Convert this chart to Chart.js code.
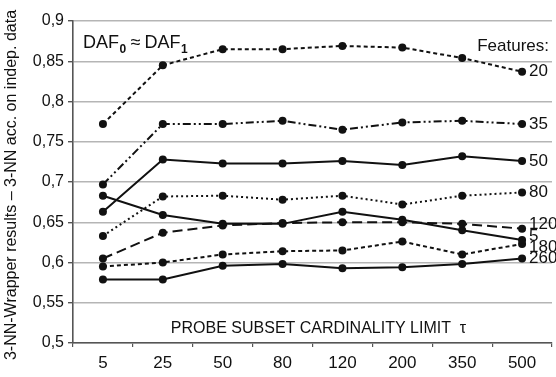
<!DOCTYPE html>
<html>
<head>
<meta charset="utf-8">
<script src="https://cdn.jsdelivr.net/npm/chart.js@4.4.0/dist/chart.umd.min.js"></script>
<style>
  html, body { margin: 0; padding: 0; background: #fff; }
  #wrap { width: 556px; height: 377px; }
</style>
</head>
<body>
<div id="wrap"><canvas id="myChart" width="556" height="377"></canvas></div>
<script>
const limits = ['5', '25', '50', '80', '120', '200', '350', '500'];
const featureNames = ['20', '35', '50', '80', '120', '5', '180', '260'];

const f20  = [0.772, 0.845, 0.865, 0.865, 0.869, 0.867, 0.854, 0.837];
const f35  = [0.697, 0.772, 0.772, 0.776, 0.765, 0.774, 0.776, 0.772];
const f50  = [0.663, 0.728, 0.723, 0.723, 0.726, 0.721, 0.732, 0.726];
const f80  = [0.633, 0.682, 0.683, 0.678, 0.683, 0.672, 0.683, 0.687];
const f120 = [0.605, 0.637, 0.646, 0.649, 0.650, 0.650, 0.648, 0.642];
const f5   = [0.683, 0.659, 0.648, 0.648, 0.663, 0.653, 0.640, 0.628];
const f180 = [0.595, 0.600, 0.610, 0.614, 0.615, 0.626, 0.610, 0.623];
const f260 = [0.579, 0.579, 0.596, 0.598, 0.593, 0.594, 0.598, 0.605];

const yTicks = [0.5, 0.55, 0.6, 0.65, 0.7, 0.75, 0.8, 0.85, 0.9];

// dash styles per series
const dashes = [[4, 3], [8, 3, 2, 3, 2, 3], [], [2, 3], [10, 5], [], [4, 3], []];
// small vertical nudges for the end labels so they don't collide
const labelShift = [0, 0, 0, 0, -4, -4, 3, 0];

const font = 'Liberation Sans, Arial, sans-serif';

const extras = {
    id: 'extras',
    afterDatasetsDraw(chart) {
        const ctx = chart.ctx;
        const a = chart.chartArea;
        ctx.save();
        ctx.fillStyle = '#111';
        ctx.font = '17px ' + font;
        ctx.textBaseline = 'middle';
        ctx.textAlign = 'left';
        chart.data.datasets.forEach((ds, i) => {
            const meta = chart.getDatasetMeta(i);
            const p = meta.data[meta.data.length - 1];
            ctx.fillText(ds.label, p.x + 7, p.y + labelShift[i]);
        });
        ctx.textAlign = 'right';
        ctx.fillText('Features:', 549, 46);

        // DAF0 ≈ DAF1
        ctx.textAlign = 'left';
        ctx.textBaseline = 'alphabetic';
        let x = 83;
        ctx.font = '18px ' + font;
        ctx.fillText('DAF', x, 48);
        x += ctx.measureText('DAF').width;
        ctx.font = 'bold 12px ' + font;
        ctx.fillText('0', x + 0.5, 53);
        x += ctx.measureText('0').width + 5;
        ctx.font = '18px ' + font;
        ctx.fillText('≈', x, 48);
        x += ctx.measureText('≈').width + 4;
        ctx.fillText('DAF', x, 48);
        x += ctx.measureText('DAF').width;
        ctx.font = 'bold 12px ' + font;
        ctx.fillText('1', x + 0.5, 53);

        // x axis caption inside the plot
        ctx.font = '16px ' + font;
        ctx.textAlign = 'center';
        ctx.textBaseline = 'middle';
        ctx.fillText('PROBE SUBSET CARDINALITY LIMIT  τ', (a.left + a.right) / 2 + 6, 329);

        // y axis title
        ctx.translate(12, 185);
        ctx.rotate(-Math.PI / 2);
        ctx.font = '16px ' + font;
        ctx.fillText('3-NN-Wrapper results – 3-NN acc. on indep. data', 0, 0);
        ctx.restore();
    }
};

const series = [f20, f35, f50, f80, f120, f5, f180, f260];

new Chart(document.getElementById('myChart'), {
    type: 'line',
    data: {
        labels: limits,
        datasets: series.map((vals, i) => ({
            label: featureNames[i],
            data: vals,
            borderColor: '#111',
            backgroundColor: '#111',
            borderWidth: 2,
            borderDash: dashes[i],
            pointRadius: 4,
            pointBorderWidth: 0,
            tension: 0,
            fill: false
        }))
    },
    options: {
        responsive: false,
        animation: false,
        layout: { padding: { top: 21, right: 3, left: 0, bottom: 0 } },
        scales: {
            x: {
                offset: true,
                grid: {
                    display: true,
                    drawOnChartArea: false,
                    offset: true,
                    color: '#555',
                    tickLength: 4,
                    lineWidth: 1.2
                },
                border: { color: '#555', width: 1.6 },
                ticks: {
                    color: '#111',
                    font: { family: font, size: 17 },
                    padding: 6
                },
                afterFit(scale) { scale.height = 34; }
            },
            y: {
                min: 0.5,
                max: 0.9,
                afterBuildTicks(scale) {
                    scale.ticks = yTicks.map(v => ({ value: v }));
                },
                grid: {
                    color: '#b5b5b5',
                    lineWidth: 1.4,
                    tickColor: '#555',
                    tickLength: 5
                },
                border: { color: '#555', width: 1.6 },
                ticks: {
                    color: '#111',
                    font: { family: font, size: 16 },
                    padding: 4,
                    callback: v => String(Math.round(v * 100) / 100).replace('.', ',')
                },
                afterFit(scale) { scale.width = 73; }
            }
        },
        plugins: {
            legend: { display: false },
            tooltip: { enabled: false }
        }
    },
    plugins: [extras]
});
</script>
</body>
</html>
